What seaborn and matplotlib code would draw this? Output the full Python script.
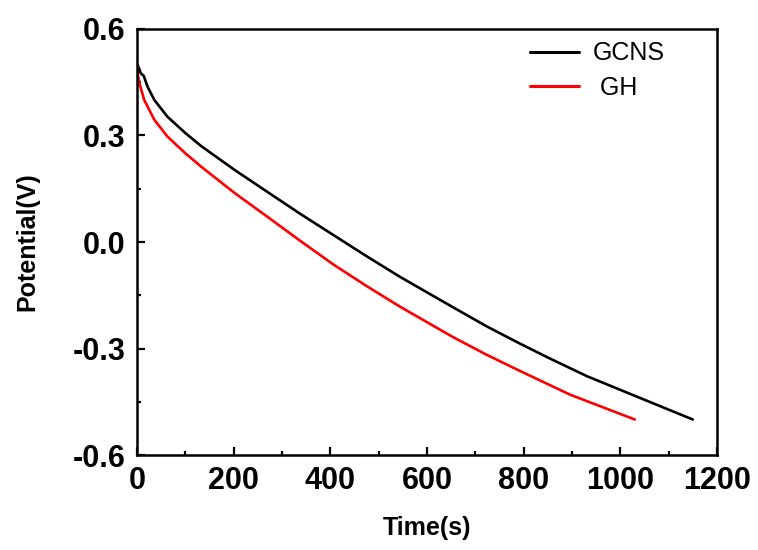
import matplotlib
matplotlib.use("Agg")
import matplotlib.pyplot as plt
import seaborn as sns
import pandas as pd
from matplotlib.ticker import MultipleLocator

# ---- data ----
t_gcns = [0, 4, 8, 14, 22, 36, 63, 100, 133, 202, 271, 337, 406, 475, 544,
          654, 724, 792, 851, 931, 1069, 1150]
v_gcns = [0.503, 0.490, 0.475, 0.468, 0.437, 0.400, 0.353, 0.307, 0.270,
          0.203, 0.140, 0.080, 0.020, -0.040, -0.098, -0.184, -0.238, -0.286,
          -0.326, -0.378, -0.455, -0.500]

t_gh = [0, 2, 5, 15, 36, 63, 100, 133, 202, 271, 337, 406, 475, 544, 654,
        724, 792, 896, 1030]
v_gh = [0.500, 0.470, 0.447, 0.400, 0.344, 0.297, 0.250, 0.212, 0.138,
        0.070, 0.004, -0.063, -0.124, -0.182, -0.268, -0.318, -0.363, -0.430,
        -0.500]

series_names = ["GCNS", " GH"]
series_colors = ["#000000", "#ff0000"]

df = pd.concat([
    pd.DataFrame({"Time(s)": t_gcns, "Potential(V)": v_gcns, "series": series_names[0]}),
    pd.DataFrame({"Time(s)": t_gh, "Potential(V)": v_gh, "series": series_names[1]}),
], ignore_index=True)

sns.set_style("ticks")
plt.rcParams["font.family"] = ["Liberation Sans", "DejaVu Sans"]
plt.rcParams["text.color"] = "black"
plt.rcParams["axes.labelcolor"] = "black"
plt.rcParams["xtick.color"] = "black"
plt.rcParams["ytick.color"] = "black"

fig = plt.figure(figsize=(7.58, 5.50), dpi=100)
ax = fig.add_axes([0.1807, 0.1727, 0.7652, 0.7746])

sns.lineplot(data=df, x="Time(s)", y="Potential(V)", hue="series",
             hue_order=series_names, palette=series_colors, sort=False,
             estimator=None, linewidth=1.9, ax=ax)

ax.set_xlim(0, 1200)
ax.set_ylim(-0.6, 0.6)
ax.xaxis.set_major_locator(MultipleLocator(200))
ax.xaxis.set_minor_locator(MultipleLocator(100))
ax.yaxis.set_minor_locator(MultipleLocator(0.15))
ax.set_yticks([-0.6, -0.3, 0.0, 0.3, 0.6])
ax.set_yticklabels(["-0.6", "-0.3", "0.0", "0.3", "0.6"])

for s in ax.spines.values():
    s.set_linewidth(1.8)
    s.set_color("black")

ax.tick_params(which="both", direction="in", top=False, right=False,
               width=1.6, color="black", labelcolor="black")
ax.tick_params(which="major", length=5.5, pad=8, labelsize=22)
ax.tick_params(which="minor", length=2.8)
for lab in ax.get_xticklabels() + ax.get_yticklabels():
    lab.set_fontweight("bold")

ax.set_xlabel("Time(s)", fontsize=18, fontweight="bold", labelpad=14, color="black")
ax.set_ylabel("Potential(V)", fontsize=18, fontweight="bold", labelpad=24, color="black")

leg = ax.legend(loc="upper left", bbox_to_anchor=(0.6995, 0.925),
                bbox_transform=fig.transFigure, frameon=False, fontsize=18,
                handlelength=1.95, handletextpad=0.57, labelspacing=0.42,
                borderpad=0, borderaxespad=0)
for line in leg.get_lines():
    line.set_linewidth(2.2)
for txt in leg.get_texts():
    txt.set_color("black")

fig.savefig("out.png", dpi=100)
